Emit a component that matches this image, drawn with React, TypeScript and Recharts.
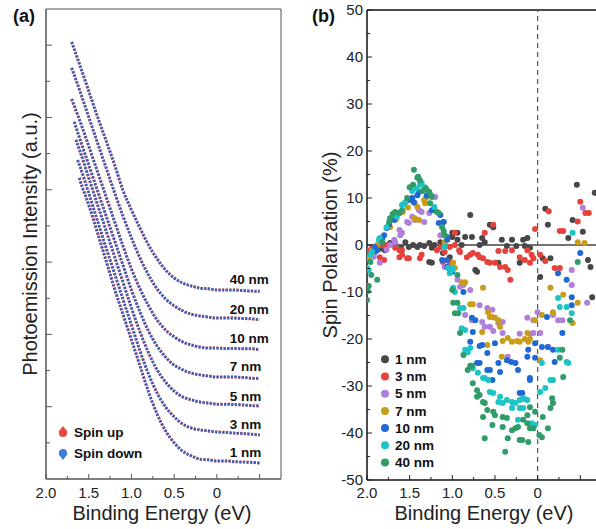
import React from 'react';
import {
  LineChart, Line, XAxis, YAxis, ReferenceArea, ReferenceDot,
  ScatterChart, Scatter, ReferenceLine,
} from 'recharts';

const FONT = '"Liberation Sans", Arial, Helvetica, sans-serif';

// ---------- Panel (a): photoemission intensity curves ----------
const E_TAIL = [1.6, 1.5, 1.4, 1.3, 1.2, 1.1, 1.0, 0.9, 0.8, 0.7, 0.6, 0.5, 0.4, 0.3, 0.2, 0.1, 0.0, -0.1, -0.2, -0.3, -0.4, -0.5];
const THICKNESS_A = ['40 nm', '20 nm', '10 nm', '7 nm', '5 nm', '3 nm', '1 nm'];
const CURVE_START = [[1.7, 12.09], [1.7, 11.37], [1.7, 10.51], [1.67, 9.88], [1.65, 9.38], [1.63, 8.82], [1.61, 8.33]];
const I_40NM = [11.42, 10.73, 10.04, 9.38, 8.71, 7.99, 7.44, 6.94, 6.47, 6.09, 5.78, 5.56, 5.42, 5.34, 5.28, 5.26, 5.23, 5.23, 5.23, 5.21, 5.20, 5.19];
const I_20NM = [10.71, 10.01, 9.32, 8.63, 7.94, 7.28, 6.67, 6.11, 5.64, 5.26, 4.98, 4.79, 4.65, 4.56, 4.51, 4.48, 4.45, 4.45, 4.45, 4.44, 4.43, 4.41];
const I_10NM = [9.88, 9.21, 8.52, 7.83, 7.14, 6.45, 5.81, 5.26, 4.79, 4.40, 4.12, 3.93, 3.79, 3.71, 3.65, 3.62, 3.62, 3.61, 3.61, 3.60, 3.60, 3.58];
const I_7NM = [9.38, 8.69, 7.99, 7.30, 6.61, 5.92, 5.23, 4.62, 4.09, 3.68, 3.37, 3.15, 3.02, 2.93, 2.88, 2.85, 2.82, 2.82, 2.82, 2.81, 2.79, 2.78];
const I_5NM = [9.05, 8.33, 7.61, 6.89, 6.17, 5.45, 4.73, 4.07, 3.49, 3.02, 2.68, 2.43, 2.27, 2.19, 2.13, 2.10, 2.07, 2.07, 2.06, 2.05, 2.03, 2.02];
const I_3NM = [8.63, 7.91, 7.16, 6.42, 5.70, 4.98, 4.26, 3.54, 2.90, 2.38, 1.99, 1.72, 1.52, 1.41, 1.36, 1.33, 1.30, 1.29, 1.27, 1.26, 1.24, 1.22];
const I_1NM = [8.25, 7.58, 6.83, 6.06, 5.28, 4.56, 3.85, 3.13, 2.41, 1.80, 1.33, 1.00, 0.77, 0.64, 0.55, 0.53, 0.50, 0.50, 0.48, 0.47, 0.46, 0.44];
const CURVE_LABEL_E = -0.15;
const CURVE_LABEL_Y = [5.53, 4.70, 3.90, 3.13, 2.30, 1.52, 0.75];
const A_YTICKS = [1, 2, 3, 4, 5, 6, 7, 8, 9, 10, 11, 12];

// ---------- Panel (b): spin polarization scatter ----------
const THICKNESS_B = ['1 nm', '3 nm', '5 nm', '7 nm', '10 nm', '20 nm', '40 nm'];
const COLORS_B = ['#474747', '#e6423d', '#b07fdc', '#c99d17', '#2068d4', '#1cc4c6', '#2f9c69'];
const P_1NM = [[1.91,-1.5],[1.79,-1.1],[1.73,0.4],[1.67,0.2],[1.55,0.6],[1.51,-0.4],[1.46,0.0],[1.41,-0.4],[1.38,0.0],[1.27,0.4],[1.24,-0.6],[1.21,0.0],[1.27,-3.6],[1.24,-3.8],[1.14,0.6],[1.11,-1.7],[1.03,-2.6],[1.00,2.6],[0.94,2.6],[1.00,1.7],[0.94,1.1],[0.89,0.0],[0.85,1.7],[0.77,1.7],[0.79,6.4],[0.73,-5.3],[0.71,-5.7],[0.68,0.0],[0.65,1.5],[0.62,0.6],[0.56,4.3],[0.52,3.8],[0.46,-3.8],[0.42,1.1],[0.36,-0.2],[0.30,1.1],[0.25,-0.2],[0.21,-3.8],[0.17,1.1],[0.15,-0.2],[0.09,-0.6],[0.12,1.5],[-0.03,-6.8],[-0.06,-2.8],[-0.09,7.7],[-0.12,4.3],[-0.15,-2.8],[-0.36,1.5],[-0.41,5.3],[-0.46,12.8],[-0.53,2.8],[-0.59,-3.2],[-0.62,-4.7],[-0.64,-11.1],[-0.67,11.1],[1.85,-0.8],[1.60,-0.6],[1.33,-0.2]];
const P_3NM = [[2.00,-1.1],[1.98,-2.1],[1.94,-0.6],[1.91,-1.1],[1.85,-2.6],[1.80,-3.2],[1.84,0.0],[1.79,-0.2],[1.77,0.0],[1.67,-0.6],[1.62,-1.1],[1.59,-1.1],[1.62,-2.6],[1.59,-2.1],[1.53,-2.8],[1.51,-2.8],[1.38,-2.8],[1.36,-2.1],[1.18,-1.1],[1.14,-0.4],[1.09,-1.5],[1.03,-0.4],[0.97,0.0],[0.92,-1.1],[1.11,-3.6],[1.03,-3.6],[0.97,2.6],[0.91,-1.5],[0.83,-2.6],[0.79,-2.1],[0.76,-1.7],[0.70,-2.1],[0.68,-2.6],[0.64,-2.8],[0.59,-3.6],[0.56,-3.8],[0.62,2.6],[0.52,4.3],[0.50,-3.8],[0.44,-4.7],[0.38,-4.7],[0.35,-5.3],[0.46,-1.3],[0.38,-1.3],[0.30,-1.1],[0.32,-7.4],[0.21,-2.6],[0.15,-3.2],[0.09,-3.8],[0.05,-2.8],[0.12,-1.1],[0.07,-2.1],[0.03,3.4],[-0.03,-2.1],[-0.09,-3.4],[-0.13,7.2],[-0.20,-4.9],[-0.26,-4.9],[-0.26,3.0],[-0.30,3.0],[-0.50,9.2],[-0.56,6.8],[-0.60,6.8],[-0.47,5.0]];
const P_5NM = [[1.92,-2.5],[1.85,-3.8],[1.68,1.1],[1.67,0.6],[1.62,3.2],[1.59,2.6],[1.61,2.1],[1.53,4.9],[1.51,4.7],[1.47,6.0],[1.44,5.3],[1.39,7.4],[1.36,7.0],[1.33,4.9],[1.27,6.8],[1.20,10.2],[1.14,2.1],[1.09,-4.7],[1.04,-4.9],[0.94,-7.4],[0.91,-8.9],[0.87,-8.5],[0.79,-9.6],[0.85,-14.9],[0.77,-16.0],[0.68,-12.8],[0.59,-13.4],[0.53,-13.8],[0.65,-16.4],[0.62,-17.4],[0.56,-17.4],[0.46,-16.6],[0.41,-16.4],[0.52,-18.3],[0.41,-18.7],[0.35,-23.8],[0.21,-18.9],[0.09,-18.9],[0.12,-15.5],[0.05,-16.0],[0.00,-14.3],[-0.03,-18.7],[0.05,-18.7],[-0.18,-14.9],[-0.24,-16.0],[-0.29,-16.0],[-0.40,-8.5],[-0.40,-5.3],[-0.53,7.9],[-0.58,-12.3],[-0.12,-21.7],[1.77,-1.0],[1.73,0.0]];
const P_7NM = [[1.99,-2.8],[1.94,-1.1],[1.88,0.0],[1.73,3.8],[1.58,7.0],[1.44,8.9],[1.41,8.1],[1.44,5.7],[1.39,5.3],[1.33,9.6],[1.32,8.9],[1.31,10.0],[1.11,4.9],[1.09,0.6],[0.99,-3.8],[0.97,-4.9],[0.89,-7.9],[0.85,-7.9],[0.64,-9.1],[0.79,-12.6],[0.76,-12.6],[0.58,-14.3],[0.56,-15.3],[0.53,-15.3],[0.50,-15.5],[0.44,-17.4],[0.46,-16.0],[0.65,-18.5],[0.59,-21.3],[0.42,-23.8],[0.41,-20.4],[0.35,-19.8],[0.30,-20.6],[0.24,-20.4],[0.21,-20.6],[0.15,-20.0],[0.12,-18.7],[0.11,-20.6],[0.09,-20.0],[0.03,-16.0],[-0.03,-24.5],[-0.05,-14.9],[-0.18,-14.3],[-0.15,-9.1],[-0.30,-10.6],[-0.41,-16.6],[-0.47,-12.3],[-0.47,0.6],[-0.55,0.4],[1.66,5.5],[1.52,8.0],[1.22,7.5]];
const P_10NM = [[1.91,-0.4],[1.88,-1.1],[1.82,1.5],[1.80,2.1],[1.77,3.6],[1.74,4.3],[1.68,5.3],[1.62,6.8],[1.50,9.6],[1.47,10.0],[1.45,9.1],[1.41,10.6],[1.39,11.3],[1.24,7.4],[1.16,4.7],[1.14,6.4],[1.10,4.9],[1.06,1.7],[1.06,1.1],[1.12,-3.2],[1.06,-3.2],[1.06,-4.7],[1.00,-5.7],[0.87,-10.0],[0.77,-15.5],[0.73,-16.0],[0.76,-18.5],[0.79,-20.6],[0.68,-21.5],[0.65,-21.3],[0.59,-23.0],[0.50,-20.9],[0.71,-25.1],[0.68,-25.1],[0.59,-26.6],[0.56,-26.6],[0.46,-25.1],[0.44,-27.0],[0.53,-28.7],[0.36,-24.5],[0.31,-24.9],[0.26,-25.1],[0.23,-26.6],[0.12,-23.8],[0.09,-28.3],[0.21,-31.5],[0.18,-31.5],[0.11,-22.3],[0.03,-20.9],[0.03,-24.0],[-0.05,-21.7],[-0.12,-21.7],[-0.18,-22.3],[-0.20,-24.9],[-0.11,-15.3],[-0.29,-18.7],[-0.40,-12.8],[-0.40,-11.1],[-0.34,-7.4],[-0.24,-6.0],[-0.50,-1.7],[0.09,-28.7],[1.30,10.5]];
const P_20NM = [[2.00,-4.9],[1.98,-5.3],[1.96,-2.1],[1.94,-1.5],[1.86,1.1],[1.85,1.5],[1.77,3.8],[1.65,6.0],[1.59,8.5],[1.55,9.1],[1.57,8.7],[1.38,12.8],[1.36,13.2],[1.32,12.3],[1.30,11.7],[1.21,8.1],[1.09,-0.4],[1.00,-4.9],[1.00,-5.3],[1.05,-4.9],[1.03,-6.0],[0.99,-9.1],[0.97,-10.0],[0.91,-13.4],[0.87,-13.4],[0.89,-17.7],[0.85,-18.1],[0.85,-22.3],[0.82,-22.8],[0.79,-21.9],[0.76,-26.2],[0.70,-27.2],[0.64,-28.3],[0.62,-28.3],[0.58,-28.7],[0.56,-31.3],[0.52,-31.5],[0.46,-33.4],[0.44,-32.3],[0.41,-33.6],[0.36,-33.0],[0.30,-33.4],[0.26,-33.6],[0.21,-33.0],[0.17,-32.6],[0.12,-33.0],[0.30,-34.7],[0.21,-34.7],[0.23,-37.2],[0.17,-34.7],[0.15,-32.8],[0.07,-37.9],[0.03,-38.3],[-0.03,-31.3],[-0.09,-30.4],[-0.15,-28.7],[-0.18,-28.7],[-0.05,-25.1],[-0.24,-22.3],[-0.36,-25.1],[-0.34,-24.9],[-0.26,-13.2],[-0.24,-11.3],[-0.34,-13.2],[-0.40,-14.5],[-0.41,2.6],[1.47,11.5],[1.42,12.0]];
const P_40NM = [[2.00,-11.7],[1.99,-9.8],[1.98,-8.7],[1.95,-6.4],[1.88,-7.4],[1.96,-3.6],[1.82,0.6],[1.74,4.9],[1.73,5.7],[1.70,6.6],[1.67,7.0],[1.62,6.8],[1.59,7.4],[1.53,10.0],[1.50,12.3],[1.46,12.8],[1.45,16.0],[1.41,14.3],[1.38,13.8],[1.40,14.5],[1.27,11.3],[1.25,10.6],[1.24,10.2],[1.26,8.9],[1.18,7.0],[1.16,6.8],[1.12,3.8],[1.10,3.0],[1.09,2.1],[0.94,-6.4],[1.00,-9.6],[0.99,-12.3],[0.94,-12.3],[0.97,-14.5],[0.93,-14.5],[0.91,-18.7],[0.87,-23.4],[0.79,-25.7],[0.77,-25.7],[0.82,-26.6],[0.76,-29.4],[0.71,-30.9],[0.68,-31.9],[0.71,-32.3],[0.64,-33.4],[0.62,-33.6],[0.59,-35.1],[0.52,-35.5],[0.50,-36.2],[0.64,-36.6],[0.41,-36.6],[0.36,-36.8],[0.53,-38.3],[0.41,-38.7],[0.30,-39.4],[0.26,-39.0],[0.23,-38.7],[0.17,-37.2],[0.12,-37.9],[0.09,-39.0],[0.62,-41.1],[0.35,-41.1],[0.21,-41.5],[0.11,-41.9],[0.38,-44.0],[0.18,-41.5],[0.05,-39.0],[0.03,-35.5],[0.09,-34.5],[0.12,-36.2],[-0.02,-40.4],[-0.05,-40.9],[-0.06,-36.6],[-0.12,-39.0],[-0.15,-34.7],[-0.18,-33.6],[-0.17,-32.6],[-0.30,-28.1],[-0.29,-22.3],[-0.26,-24.0],[-0.38,-16.0],[-0.47,-3.6],[1.31,12.0],[1.35,11.5]];
const B_YTICKS = [-50, -45, -40, -35, -30, -25, -20, -15, -10, -5, 0, 5, 10, 15, 20, 25, 30, 35, 40, 45, 50];

// shared x ticks (binding energy, eV)
const E_TICKS = [2, 1.75, 1.5, 1.25, 1, 0.75, 0.5, 0.25, 0, -0.25, -0.5];
const E_TICK_LABELS = [2, 1.5, 1, 0.5, 0];

const SPIN_UP = '#e8453c';
const SPIN_DOWN = '#2f62c4';

const A_SERIES = [I_40NM, I_20NM, I_10NM, I_7NM, I_5NM, I_3NM, I_1NM];
const CURVES = A_SERIES.map((vals, i) => [
  { e: CURVE_START[i][0], v: CURVE_START[i][1] },
  ...E_TAIL.map((e, j) => ({ e, v: vals[j] })),
]);
const B_SERIES = [P_1NM, P_3NM, P_5NM, P_7NM, P_10NM, P_20NM, P_40NM].map((pts) =>
  pts.map(([e, p]) => ({ e, p }))
);

const near = (a: number, b: number) => Math.abs(a - b) < 1e-6;
const fmtE = (v: number) => (near(v, 0) ? '0' : v.toFixed(1));

const makeXTick = (stroke: string, dy: number) => (props: any) => {
  const { x, y, payload } = props;
  const v = payload.value as number;
  const major = near(v * 2, Math.round(v * 2));
  const showLabel = E_TICK_LABELS.some((l) => near(l, v));
  return (
    <g>
      <line x1={x} x2={x} y1={y} y2={y - (major ? 5 : 3)} stroke={stroke} strokeWidth={1} />
      {showLabel && (
        <text x={x} y={y + dy} textAnchor="middle" fontSize={15} fontFamily={FONT} fill="#222">
          {fmtE(v)}
        </text>
      )}
    </g>
  );
};

const YTickA = (props: any) => {
  const { x, y, payload } = props;
  const long = payload.value % 2 === 0;
  return <line x1={x} x2={x + (long ? 6 : 4)} y1={y} y2={y} stroke="#555" strokeWidth={1} />;
};

const YTickB = (props: any) => {
  const { x, y, payload } = props;
  const v = payload.value as number;
  const major = v % 10 === 0;
  return (
    <g>
      <line x1={x} x2={x + (major ? 5 : 3)} y1={y} y2={y} stroke="#222" strokeWidth={1} />
      {major && (
        <text x={x - 4} y={y + 5} textAnchor="end" fontSize={15} fontFamily={FONT} fill="#222">
          {String(v)}
        </text>
      )}
    </g>
  );
};

const curveLabel = (text: string) => (p: any) => (
  <text x={p.cx} y={p.cy} dy={5} textAnchor="start" fontSize={13.5} fontWeight="bold" fontFamily={FONT} fill="#111">
    {text}
  </text>
);

const dotShape = (color: string) => (p: any) => <circle cx={p.cx} cy={p.cy} r={3} fill={color} />;

export default function App() {
  return (
    <div style={{ position: 'absolute', left: 0, top: 0, width: 596, height: 529, overflow: 'hidden', background: '#fff' }}>
      <div style={{ position: 'absolute', left: 0, top: 0 }}>
        <LineChart width={300} height={529} margin={{ top: 9, right: 19, left: 0, bottom: 0 }}>
          <XAxis
            type="number" dataKey="e" domain={[-0.75, 2]} reversed allowDataOverflow
            ticks={E_TICKS} interval={0} height={50} tickSize={0} tickMargin={0}
            tickLine={false} axisLine={{ stroke: '#555' }} tick={makeXTick('#555', 19)}
          />
          <YAxis
            type="number" domain={[0, 13]} allowDataOverflow ticks={A_YTICKS} interval={0}
            width={46} tickSize={0} tickMargin={0} tickLine={false} axisLine={{ stroke: '#555' }} tick={YTickA}
          />
          <ReferenceArea x1={-0.75} x2={2} y1={0} y2={13} fill="none" stroke="#555" strokeWidth={1} />
          {CURVES.map((d, i) => (
            <Line key={'u' + i} data={d} dataKey="v" type="monotone" stroke={SPIN_UP} strokeWidth={3.0}
              strokeDasharray="2.2 1.4" dot={false} activeDot={false} isAnimationActive={false} />
          ))}
          {CURVES.map((d, i) => (
            <Line key={'d' + i} data={d} dataKey="v" type="monotone" stroke={SPIN_DOWN} strokeWidth={2.5}
              strokeDasharray="2.2 1.4" dot={false} activeDot={false} isAnimationActive={false} />
          ))}
          {THICKNESS_A.map((t, i) => (
            <ReferenceDot key={t} x={CURVE_LABEL_E} y={CURVE_LABEL_Y[i]} r={0} shape={curveLabel(t)} />
          ))}
        </LineChart>
      </div>
      <div style={{ position: 'absolute', left: 300, top: 0 }}>
        <ScatterChart width={310} height={529} margin={{ top: 10, right: 8.4, left: 0, bottom: 0 }}>
          <XAxis
            type="number" dataKey="e" domain={[-0.75, 2]} reversed allowDataOverflow
            ticks={E_TICKS} interval={0} height={49} tickSize={0} tickMargin={0}
            tickLine={false} axisLine={{ stroke: '#111', strokeWidth: 1.5 }} tick={makeXTick('#222', 18)}
          />
          <YAxis
            type="number" dataKey="p" domain={[-50, 50]} allowDataOverflow ticks={B_YTICKS} interval={0}
            width={67} tickSize={0} tickMargin={0} tickLine={false}
            axisLine={{ stroke: '#111', strokeWidth: 1.5 }} tick={YTickB}
          />
          <ReferenceLine y={50} stroke="#111" strokeWidth={1.5} />
          <ReferenceLine y={0} stroke="#444" strokeWidth={1.3} />
          <ReferenceLine x={0} stroke="#555" strokeWidth={1.2} strokeDasharray="5 4" />
          {B_SERIES.map((d, i) => (
            <Scatter key={THICKNESS_B[i]} data={d} fill={COLORS_B[i]} shape={dotShape(COLORS_B[i])} isAnimationActive={false} />
          ))}
        </ScatterChart>
      </div>
      <svg width={596} height={529} style={{ position: 'absolute', left: 0, top: 0, pointerEvents: 'none' }}>
        <g fontFamily={FONT} fill="#111">
          <text x={13} y={22} fontSize={18} fontWeight="bold">(a)</text>
          <text x={312} y={22} fontSize={18} fontWeight="bold">(b)</text>
          <text x={162} y={520} fontSize={20} textAnchor="middle" fill="#222">Binding Energy (eV)</text>
          <text x={484} y={520} fontSize={20} textAnchor="middle" fill="#222">Binding Energy (eV)</text>
          <text transform="translate(37,244) rotate(-90)" fontSize={20} textAnchor="middle" fill="#222">Photoemission Intensity (a.u.)</text>
          <text transform="translate(337,245) rotate(-90)" fontSize={20} textAnchor="middle" fill="#222">Spin Polarization (%)</text>
          {/* legend (a) */}
          <circle cx={63} cy={433} r={4} fill={SPIN_UP} />
          <path d="M58.5,432 L67.5,432 L63,426 Z" fill={SPIN_UP} />
          <text x={74} y={437} fontSize={13.5} fontWeight="bold">Spin up</text>
          <circle cx={63} cy={453} r={4} fill="#3c7fd6" />
          <path d="M58.5,454 L67.5,454 L63,460 Z" fill="#3c7fd6" />
          <text x={74} y={458} fontSize={13.5} fontWeight="bold">Spin down</text>
          {/* legend (b) */}
          {THICKNESS_B.map((t, i) => (
            <g key={t}>
              <circle cx={385} cy={359.3 + i * 17.2} r={4} fill={COLORS_B[i]} />
              <text x={395} y={364 + i * 17.2} fontSize={13.5} fontWeight="bold">{t}</text>
            </g>
          ))}
        </g>
      </svg>
    </div>
  );
}
